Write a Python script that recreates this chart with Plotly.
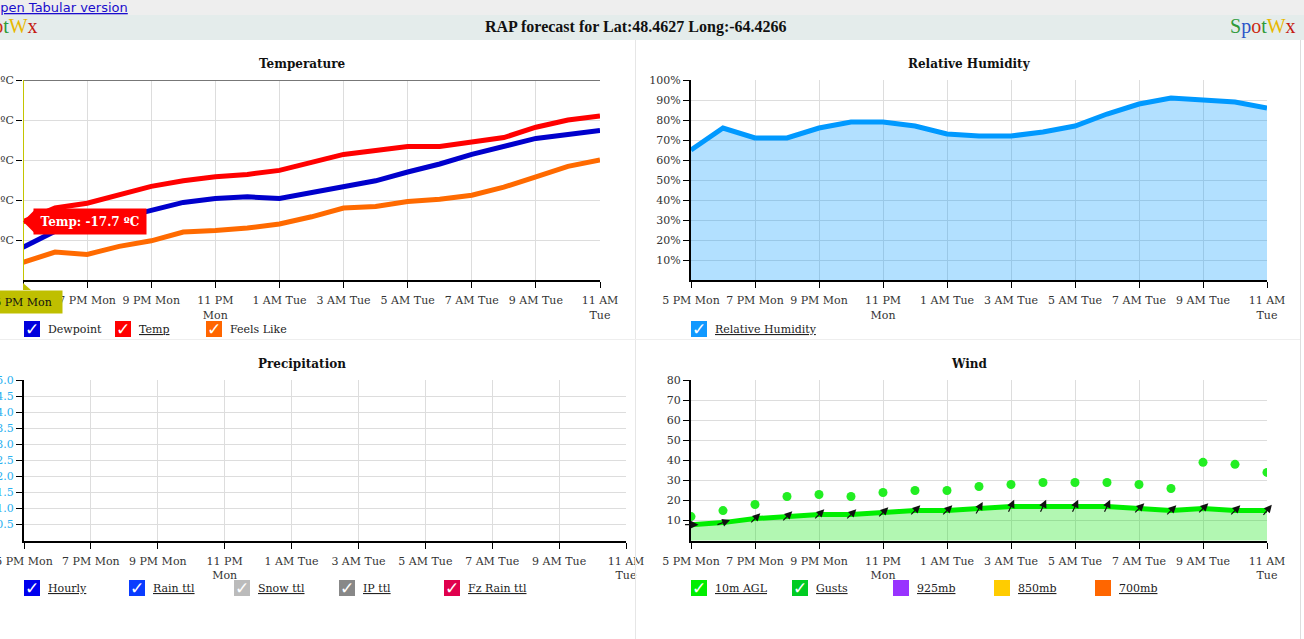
import math
import plotly.graph_objects as go

W, H = 1304, 639

# ---------------- data ----------------
model = "RAP"
lat = "48.4627"
lon = "-64.4266"

times = ["5 PM Mon", "6 PM Mon", "7 PM Mon", "8 PM Mon", "9 PM Mon", "10 PM Mon",
         "11 PM Mon", "12 AM Tue", "1 AM Tue", "2 AM Tue", "3 AM Tue", "4 AM Tue",
         "5 AM Tue", "6 AM Tue", "7 AM Tue", "8 AM Tue", "9 AM Tue", "10 AM Tue",
         "11 AM Tue"]
tick_times = ["5 PM Mon", "7 PM Mon", "9 PM Mon", "11 PM Mon", "1 AM Tue",
              "3 AM Tue", "5 AM Tue", "7 AM Tue", "9 AM Tue", "11 AM Tue"]
tick_text = ["5 PM Mon", "7 PM Mon", "9 PM Mon", "11 PM<br>Mon", "1 AM Tue",
             "3 AM Tue", "5 AM Tue", "7 AM Tue", "9 AM Tue", "11 AM<br>Tue"]

temp = [-17.7, -16.0, -15.4, -14.3, -13.3, -12.6, -12.1, -11.8, -11.3, -10.3,
        -9.3, -8.8, -8.3, -8.3, -7.8, -7.2, -5.9, -5.0, -4.5]
dewpoint = [-20.9, -18.9, -17.9, -17.3, -16.3, -15.3, -14.8, -14.6, -14.8, -14.1,
            -13.3, -12.6, -11.5, -10.5, -9.3, -8.3, -7.3, -6.8, -6.3]
feels_like = [-22.8, -21.5, -21.8, -20.8, -20.1, -19.0, -18.8, -18.5, -18.0, -17.1,
              -16.0, -15.8, -15.2, -14.9, -14.4, -13.4, -12.1, -10.8, -10.0]
temp_ticks = [0, -5, -10, -15, -20]
temp_tick_text = ["0ºC", "-5ºC", "-10ºC", "-15ºC", "-20ºC"]

rh = [65, 76, 71, 71, 76, 79, 79, 77, 73, 72, 72, 74, 77, 83, 88, 91, 90, 89, 86]
rh_ticks = [10, 20, 30, 40, 50, 60, 70, 80, 90, 100]

precip_hourly = [0, 0, 0, 0, 0, 0, 0, 0, 0, 0, 0, 0, 0, 0, 0, 0, 0, 0, 0]
precip_ticks = [0.5, 1.0, 1.5, 2.0, 2.5, 3.0, 3.5, 4.0, 4.5, 5.0]

wind_10m = [8, 9, 11, 12, 13, 13, 14, 15, 15, 16, 17, 17, 17, 17, 16, 15, 16, 15, 15]
wind_gust = [12, 15, 18, 22, 23, 22, 24, 25, 25, 27, 28, 29, 29, 29, 28, 26, 39, 38, 34]
wind_dir = [270, 250, 225, 225, 225, 225, 225, 225, 225, 210, 205, 205, 205, 205,
            225, 225, 225, 225, 220]
wind_ticks = [10, 20, 30, 40, 50, 60, 70, 80]

temp_legend = [("Dewpoint", "#0000dd", True, False),
               ("Temp", "#ff0000", True, True),
               ("Feels Like", "#ff6600", True, False)]
rh_legend = [("Relative Humidity", "#1199ff", True, True)]
precip_legend = [("Hourly", "#0000ee", True, True),
                 ("Rain ttl", "#0a3cff", True, True),
                 ("Snow ttl", "#bbbbbb", True, True),
                 ("IP ttl", "#888888", True, True),
                 ("Fz Rain ttl", "#e0004d", True, True)]
wind_legend = [("10m AGL", "#00ee00", True, True),
               ("Gusts", "#00cc22", True, True),
               ("925mb", "#9933ff", False, True),
               ("850mb", "#ffcc00", False, True),
               ("700mb", "#ff6600", False, True)]

# ---------------- helpers ----------------
def px(x):
    return x / W


def py(y):
    return 1 - y / H


SERIF = "DejaVu Serif"
TICKFONT = dict(family=SERIF, size=11, color="#333")


def xaxis(dom, anchor):
    return dict(domain=dom, anchor=anchor, type="category",
                range=[0, len(times) - 1], tickmode="array",
                tickvals=tick_times, ticktext=tick_text,
                showgrid=True, gridcolor="#dddddd", gridwidth=1,
                showline=True, linecolor="#000", linewidth=2,
                ticks="outside", ticklen=6, tickcolor="#000", tickwidth=1,
                tickfont=TICKFONT, ticklabelstandoff=3, zeroline=False,
                automargin=False, fixedrange=True)


def yaxis(dom, anchor, rng, tv, tt, color="#333", showline=True):
    return dict(domain=dom, anchor=anchor, range=rng, tickmode="array",
                tickvals=tv, ticktext=tt, showgrid=True, gridcolor="#dddddd",
                gridwidth=1, showline=showline, linecolor="#000", linewidth=2,
                ticks="outside", ticklen=6, tickcolor="#000", tickwidth=1,
                tickfont=dict(family=SERIF, size=11, color=color),
                zeroline=False, automargin=False, fixedrange=True)


fig = go.Figure()

# Temperature
fig.add_trace(go.Scatter(x=times, y=dewpoint, mode="lines", name="Dewpoint",
                         line=dict(color="#0000cc", width=5), xaxis="x", yaxis="y"))
fig.add_trace(go.Scatter(x=times, y=temp, mode="lines", name="Temp",
                         line=dict(color="#ff0000", width=5), xaxis="x", yaxis="y"))
fig.add_trace(go.Scatter(x=times, y=feels_like, mode="lines", name="Feels Like",
                         line=dict(color="#ff6a00", width=5), xaxis="x", yaxis="y"))

# Relative humidity
fig.add_trace(go.Scatter(x=times, y=rh, mode="lines", name="Relative Humidity",
                         line=dict(color="#0099ff", width=5), fill="tozeroy",
                         fillcolor="rgba(0,153,255,0.30)", xaxis="x2", yaxis="y2"))

# Precipitation
fig.add_trace(go.Bar(x=times, y=precip_hourly, name="Hourly",
                     marker=dict(color="#0000ee"), xaxis="x3", yaxis="y3"))

# Wind
fig.add_trace(go.Scatter(x=times, y=wind_10m, mode="lines", name="10m AGL",
                         line=dict(color="#00ee00", width=5), fill="tozeroy",
                         fillcolor="rgba(0,230,0,0.30)", xaxis="x4", yaxis="y4"))
fig.add_trace(go.Scatter(x=times, y=wind_gust, mode="markers", name="Gusts",
                         marker=dict(color="#22ee22", size=9), xaxis="x4", yaxis="y4"))

top_dom = [py(280), py(80)]
bot_dom = [py(540.7), py(380)]

fig.update_layout(
    template="none",
    width=W, height=H, margin=dict(l=0, r=0, t=0, b=0, pad=0, autoexpand=False),
    paper_bgcolor="white", plot_bgcolor="white", showlegend=False,
    bargap=0.3,
    xaxis=xaxis([px(23), px(600)], "y"),
    yaxis=yaxis(top_dom, "x", [-25, 0], temp_ticks, temp_tick_text, showline=False),
    xaxis2=xaxis([px(691), px(1267)], "y2"),
    yaxis2=yaxis(top_dom, "x2", [0, 100], rh_ticks, [f"{v}%" for v in rh_ticks]),
    xaxis3=xaxis([px(24), px(626)], "y3"),
    yaxis3=yaxis(bot_dom, "x3", [0, 5], precip_ticks,
                 [f"{v:.1f}" for v in precip_ticks], color="#2ab0f0"),
    xaxis4=xaxis([px(691), px(1267)], "y4"),
    yaxis4=yaxis(bot_dom, "x4", [0, 80], wind_ticks, [str(v) for v in wind_ticks]),
)
fig.layout.yaxis.zeroline = True
fig.layout.yaxis.zerolinecolor = "#777"
fig.layout.yaxis.zerolinewidth = 1

shapes = []
ann = []

# page bands
shapes.append(dict(type="rect", xref="paper", yref="paper", x0=0, x1=1,
                   y0=py(15), y1=py(0), fillcolor="#eeeeee", line_width=0, layer="below"))
shapes.append(dict(type="rect", xref="paper", yref="paper", x0=0, x1=1,
                   y0=py(40), y1=py(15), fillcolor="#e4eceb", line_width=0, layer="below"))
# separators
shapes.append(dict(type="line", xref="paper", yref="paper", x0=px(635.5), x1=px(635.5),
                   y0=py(639), y1=py(40), line=dict(color="#e6e6e6", width=1)))
shapes.append(dict(type="line", xref="paper", yref="paper", x0=0, x1=px(1300),
                   y0=py(339.5), y1=py(339.5), line=dict(color="#eeeeee", width=1)))
shapes.append(dict(type="line", xref="paper", yref="paper", x0=px(1300.5), x1=px(1300.5),
                   y0=py(639), y1=py(40), line=dict(color="#dddddd", width=1)))

ann.append(dict(xref="paper", yref="paper", x=px(130), y=py(8), xanchor="right",
                yanchor="middle", showarrow=False,
                text="<u>Open Tabular version</u>",
                font=dict(family="DejaVu Sans", size=13, color="#1a0dcc")))
ann.append(dict(xref="paper", yref="paper", x=px(636), y=py(27.5), xanchor="center",
                yanchor="middle", showarrow=False,
                text=f"<b>{model} forecast for Lat:{lat} Long:{lon}</b>",
                font=dict(family="Liberation Serif", size=16, color="#111")))
logo = ("<span style='color:#2f9a3a'>S</span><span style='color:#2a55c8'>p</span>"
        "<span style='color:#cc2a10'>o</span><span style='color:#2f9a3a'>t</span>"
        "<span style='color:#e8b800'>W</span><span style='color:#c41a10'>x</span>")
for xr in (40, 1298):
    ann.append(dict(xref="paper", yref="paper", x=px(xr), y=py(27), xanchor="right",
                    yanchor="middle", showarrow=False, text=logo,
                    font=dict(family="Liberation Serif", size=20)))

# panel titles
for title, cx, cy in [("Temperature", 302, 64), ("Relative Humidity", 969, 64),
                      ("Precipitation", 302, 364), ("Wind", 969, 364)]:
    ann.append(dict(xref="paper", yref="paper", x=px(cx), y=py(cy), xanchor="center",
                    yanchor="middle", showarrow=False, text=f"<b>{title}</b>",
                    font=dict(family=SERIF, size=12, color="#111")))

# custom legends
def legend(items, x0, step, yc):
    for i, (label, color, checked, under) in enumerate(items):
        x = x0 + i * step
        shapes.append(dict(type="rect", xref="paper", yref="paper", x0=px(x), x1=px(x + 16),
                           y0=py(yc + 8), y1=py(yc - 8), fillcolor=color, line_width=0))
        if checked:
            ann.append(dict(xref="paper", yref="paper", x=px(x + 8), y=py(yc), xanchor="center",
                            yanchor="middle", showarrow=False, text="<b>✓</b>",
                            font=dict(family="DejaVu Sans", size=17, color="white")))
        t = f"<u>{label}</u>" if under else label
        ann.append(dict(xref="paper", yref="paper", x=px(x + 22), y=py(yc), xanchor="left",
                        yanchor="middle", showarrow=False, text=t,
                        font=dict(family=SERIF, size=11, color="#222")))


legend(temp_legend, 24, 91, 329)
legend(rh_legend, 691, 101, 329)
legend(precip_legend, 24, 105, 588)
legend(wind_legend, 691, 101, 588)

# crosshair + tooltip on the temperature chart
shapes.append(dict(type="line", xref="x", yref="y domain", x0=times[0], x1=times[0],
                   y0=0, y1=1, line=dict(color="#c4c400", width=2), layer="above"))
shapes.append(dict(type="path", xref="x", yref="y domain", xsizemode="pixel",
                   ysizemode="pixel", xanchor=times[0], yanchor=0,
                   path="M 0 -3 L -8 -10 L 8 -10 Z", fillcolor="#bfbf00", line_width=0))
ann.append(dict(xref="x", yref="y domain", x=times[0], y=0, yshift=-10, xanchor="center",
                yanchor="top", showarrow=False, text=times[0], bgcolor="#bfbf00",
                width=70, height=14, borderpad=4,
                font=dict(family=SERIF, size=11, color="#111")))
shapes.append(dict(type="path", xref="x", yref="y", xsizemode="pixel", ysizemode="pixel",
                   xanchor=times[0], yanchor=temp[0], path="M 0 0 L 11 11 L 11 -11 Z",
                   fillcolor="#ff0000", line_width=0))
ann.append(dict(xref="x", yref="y", x=times[0], y=temp[0], xshift=10, xanchor="left",
                yanchor="middle", showarrow=False, text=f"<b>Temp: {temp[0]} ºC</b>",
                bgcolor="#ff0000", width=104, height=17, borderpad=4,
                font=dict(family=SERIF, size=12, color="white")))

# wind direction arrows
L = 15
for t, s, d in zip(times, wind_10m, wind_dir):
    toward = math.radians((d + 180) % 360)
    dx, dy = math.sin(toward), math.cos(toward)
    ann.append(dict(xref="x4", yref="y4", x=t, y=s, text="", showarrow=True,
                    arrowhead=2, arrowsize=1.3, arrowwidth=1.2, arrowcolor="#111",
                    ax=-L * dx, ay=L * dy, xshift=L / 2 * dx, yshift=L / 2 * dy,
                    standoff=0, startstandoff=0))

fig.update_layout(shapes=shapes, annotations=ann)
fig.write_html("out.html", config={"displayModeBar": False},
               post_script="document.body.style.margin='0px';")
